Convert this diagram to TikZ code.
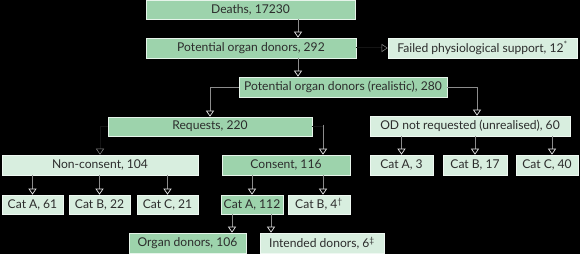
\documentclass[tikz,border=0pt]{standalone}
\usepackage{fontspec}
\setmainfont{Lato}
\usetikzlibrary{arrows.meta}
\definecolor{dkg}{HTML}{9DD3AC}
\definecolor{ltg}{HTML}{D8EEDF}
\definecolor{txt}{HTML}{2C2C2C}
\definecolor{lng}{HTML}{8C8C8C}
\definecolor{hid}{HTML}{141414}
\definecolor{tipc}{HTML}{E6E6E6}
\definecolor{dimtip}{HTML}{8A8A8A}
\tikzset{
  box/.style={draw=white!75!dkg, line width=0.6pt, inner sep=0pt, text=txt,
    font=\fontsize{12.1}{14}\selectfont, minimum height=20pt},
  dbox/.style={box, fill=dkg},
  lbox/.style={box, fill=ltg, draw=white!60!ltg},
  conn/.style={draw=lng, line width=1pt,
    -{Triangle[open, length=6pt, width=8pt, color=tipc, line width=0.7pt]}},
  hconn/.style={draw=hid, line width=1pt,
    -{Triangle[open, length=6pt, width=8pt, color=dimtip, line width=0.5pt]}},
  hline/.style={draw=hid, line width=1pt},
}
\begin{document}
\begin{tikzpicture}[x=1pt,y=-1pt]
\fill[black] (0,0) rectangle (580,254);
\useasboundingbox (0,0) rectangle (580,254);
% row 1-3
\node[dbox, minimum width=209pt, minimum height=19pt] (deaths) at (250.5,9.5) {Deaths, 17230};
\node[dbox, minimum width=210pt] (pod) at (251,48) {Potential organ donors, 292};
\node[lbox, minimum width=189pt] (fail) at (482.5,48) {Failed physiological support, 12\textsuperscript{*}};
\node[dbox, minimum width=208pt] (real) at (343,87) {Potential organ donors (realistic), 280};
% row 4
\node[dbox, minimum width=204pt, minimum height=19pt] (req) at (210,126.5) {Requests, 220};
\node[lbox, minimum width=200pt] (odn) at (470,126) {OD not requested (unrealised), 60};
% row 5
\node[lbox, minimum width=196pt] (nc) at (100,165) {Non-consent, 104};
\node[dbox, minimum width=128pt] (con) at (286,165) {Consent, 116};
\node[lbox, minimum width=63pt] (ca3) at (401.5,165) {Cat A, 3};
\node[lbox, minimum width=64pt] (cb17) at (475,165) {Cat B, 17};
\node[lbox, minimum width=62pt] (cc40) at (547,165) {Cat C, 40};
% row 6
\node[lbox, minimum width=61pt, minimum height=19pt] (ca61) at (32.5,204.5) {Cat A, 61};
\node[lbox, minimum width=61pt, minimum height=19pt] (cb22) at (99.5,204.5) {Cat B, 22};
\node[lbox, minimum width=61pt, minimum height=19pt] (cc21) at (167.5,204.5) {Cat C, 21};
\node[dbox, minimum width=62pt, minimum height=19pt] (ca112) at (252,204.5) {Cat A, 112};
\node[lbox, minimum width=62pt, minimum height=19pt] (cb4) at (319,204.5) {Cat B, 4\textsuperscript{†}};
% row 7
\node[dbox, minimum width=117pt] (od) at (187.5,243) {Organ donors, 106};
\node[lbox, minimum width=124pt] (idn) at (322,243) {Intended donors, 6\textsuperscript{‡}};
% column coordinates
\coordinate (x298) at (298,0);
\coordinate (x477) at (477,0);
\coordinate (x323) at (323,0);
\coordinate (x552) at (552,0);
\coordinate (x232) at (232,0);
\coordinate (x271) at (271,0);
\coordinate (reqbend) at (323,126.5);
% connectors
\draw[conn] (x298 |- deaths.south) -- (x298 |- pod.north);
\draw[conn] (x298 |- pod.south) -- (x298 |- real.north);
\draw[hconn] (pod.east) -- (fail.west);
\draw[conn] (real.west) -| (req.north);
\draw[conn] (real.east) -| (x477 |- odn.north);
\draw[hconn] (req.west) -| (nc.north);
\draw[hline] (req.east) -- (reqbend);
\draw[conn] ([yshift=2pt]reqbend) -- (x323 |- con.north);
\draw[conn] (ca61.north |- nc.south) -- (ca61.north);
\draw[conn] (cb22.north |- nc.south) -- (cb22.north);
\draw[conn] (cc21.north |- nc.south) -- (cc21.north);
\draw[conn] (ca112.north |- con.south) -- (ca112.north);
\draw[conn] (x323 |- con.south) -- (x323 |- cb4.north);
\draw[conn] (ca3.north |- odn.south) -- (ca3.north);
\draw[conn] (cb17.north |- odn.south) -- (cb17.north);
\draw[conn] (x552 |- odn.south) -- (x552 |- cc40.north);
\draw[conn] (x232 |- ca112.south) -- (x232 |- od.north);
\draw[conn] (x271 |- ca112.south) -- (x271 |- idn.north);
\end{tikzpicture}
\end{document}
